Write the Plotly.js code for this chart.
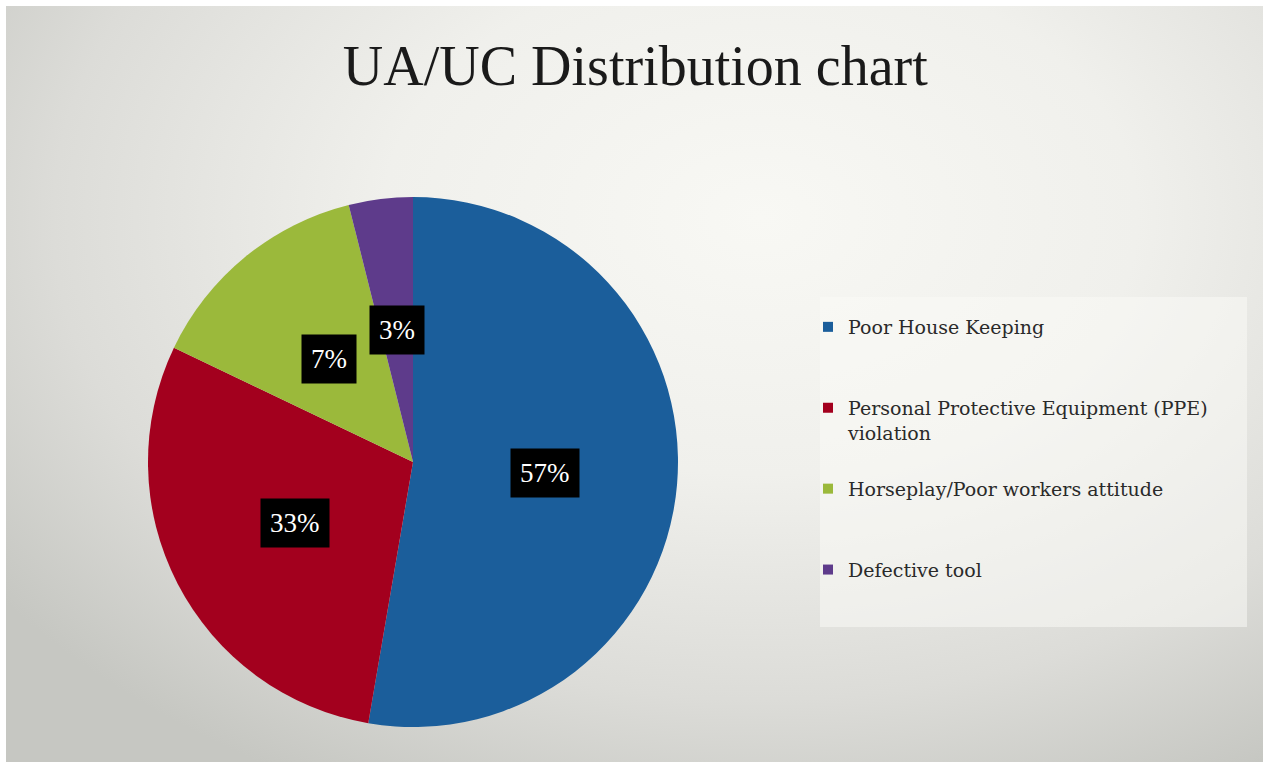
<!DOCTYPE html>
<html>
<head>
<meta charset="utf-8">
<script src="https://cdn.plot.ly/plotly-3.0.1.min.js"></script>
<style>
  html, body { margin: 0; padding: 0; background: #ffffff; }
  #wrap {
    position: absolute; left: 0; top: 0; width: 1263px; height: 762px; overflow: hidden;
    background: #ffffff;
  }
  #bg {
    position: absolute; left: 6px; top: 6px; width: 1257px; height: 756px;
    background: radial-gradient(ellipse 75% 85% at 60% 28%, #f8f8f4 0%, #f0f0ec 40%, #dcdcd8 75%, #c6c7c2 100%);
  }
  #chart { position: absolute; left: 0; top: 0; width: 1263px; height: 762px; }
</style>
</head>
<body>
<div id="wrap"><div id="bg"></div><div id="chart"></div></div>
<script>
const W = 1263, H = 762;

// ---- data ----
const categories = [
  "Poor House Keeping",
  "Personal Protective Equipment (PPE) violation",
  "Horseplay/Poor workers attitude",
  "Defective tool"
];
const legendText = [
  "Poor House Keeping<br> ",
  "Personal Protective Equipment (PPE)<br>violation",
  "Horseplay/Poor workers attitude<br> ",
  "Defective tool<br> "
];
const sliceValues = [52.7, 29.4, 14.0, 3.9];
const percentLabels = ["57%", "33%", "7%", "3%"];
const colors = ["#1b5e9b", "#a3001e", "#9bb93b", "#5e3b8b"];

// ---- geometry of the pie domain ----
const dom = { x: [148 / W, 678 / W], y: [1 - 729 / H, 1 - 195 / H] };
const cxPx = (dom.x[0] + dom.x[1]) / 2 * W;
const cyPx = (1 - (dom.y[0] + dom.y[1]) / 2) * H;
const R = Math.min((dom.x[1] - dom.x[0]) * W, (dom.y[1] - dom.y[0]) * H) / 2;

const serif = "Liberation Serif, DejaVu Serif, serif";
const legendSerif = "DejaVu Serif, Liberation Serif, serif";

const traces = [{
  type: "pie",
  labels: categories,
  values: sliceValues,
  sort: false,
  direction: "clockwise",
  rotation: 0,
  textinfo: "none",
  hoverinfo: "label+percent",
  marker: { colors: colors, line: { width: 0 } },
  domain: dom,
  showlegend: false
}];

categories.forEach((c, i) => {
  traces.push({
    type: "scatter",
    mode: "markers",
    x: [null], y: [null],
    name: legendText[i],
    legendgroup: "g" + i,
    marker: { symbol: "square", size: 10, color: colors[i] },
    hoverinfo: "skip",
    showlegend: true
  });
});

// percentage labels placed at half radius on each slice bisector
const total = sliceValues.reduce((a, b) => a + b, 0);
let cum = 0;
const annotations = [];
sliceValues.forEach((v, i) => {
  const mid = (cum + v / 2) / total * 2 * Math.PI;
  cum += v;
  const px = cxPx + 0.5 * R * Math.sin(mid);
  const py = cyPx - 0.5 * R * Math.cos(mid);
  annotations.push({
    x: px / W, y: 1 - py / H, xref: "paper", yref: "paper",
    xanchor: "center", yanchor: "middle",
    text: percentLabels[i], showarrow: false,
    font: { family: serif, size: 27, color: "#ffffff" },
    bgcolor: "#000000", borderpad: 9
  });
});

const layout = {
  width: W, height: H,
  margin: { l: 0, r: 0, t: 0, b: 0 },
  paper_bgcolor: "rgba(0,0,0,0)",
  plot_bgcolor: "rgba(0,0,0,0)",
  title: {
    text: "UA/UC Distribution chart",
    font: { family: serif, size: 56, color: "#1a1a1a" },
    x: 0.503, xanchor: "center",
    y: 1 - 65 / H, yanchor: "middle", yref: "paper"
  },
  xaxis: { visible: false },
  yaxis: { visible: false },
  showlegend: true,
  legend: {
    x: 808 / W, xanchor: "left",
    y: 1 - 308 / H, yanchor: "top",
    bgcolor: "rgba(0,0,0,0)",
    font: { family: legendSerif, size: 19, color: "#2a2a2a" },
    valign: "top",
    tracegroupgap: 28.5,
    itemclick: false
  },
  shapes: [{
    type: "rect", xref: "paper", yref: "paper",
    x0: 820 / W, x1: 1247 / W, y0: 1 - 627 / H, y1: 1 - 297 / H,
    fillcolor: "rgba(250,250,246,0.55)", line: { width: 0 }, layer: "below"
  }],
  annotations: annotations
};

Plotly.newPlot("chart", traces, layout, { displayModeBar: false, staticPlot: true });
</script>
</body>
</html>
